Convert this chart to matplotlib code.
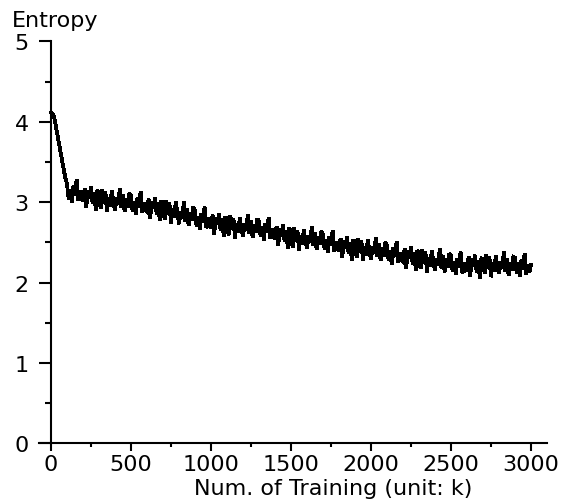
import matplotlib
matplotlib.use("Agg")
import matplotlib.pyplot as plt
import numpy as np

# Training steps (unit: k) and entropy values
steps = list(range(0, 3010, 10))
entropy = [
    4.12, 4.10, 4.06, 3.95, 3.84, 3.73, 3.62, 3.51, 3.40, 3.30,
    3.23, 3.04, 3.16, 3.00, 3.20, 3.09, 3.28, 3.02, 3.14, 3.05,
    3.01, 3.17, 2.93, 3.14, 3.05, 3.19, 2.98, 3.12, 2.90, 3.15,
    3.10, 2.92, 3.16, 2.99, 3.13, 2.88, 3.06, 2.95, 3.14, 3.00,
    2.90, 3.05, 2.97, 3.17, 2.93, 3.09, 2.88, 3.04, 2.94, 3.11,
    3.08, 2.89, 3.01, 2.85, 3.05, 2.94, 3.13, 2.87, 2.99, 2.90,
    2.88, 3.04, 2.80, 3.01, 2.92, 3.06, 2.85, 2.99, 2.77, 3.02,
    2.96, 2.78, 3.02, 2.85, 2.99, 2.74, 2.92, 2.81, 3.00, 2.86,
    2.73, 2.88, 2.80, 3.00, 2.76, 2.92, 2.71, 2.87, 2.77, 2.94,
    2.89, 2.70, 2.82, 2.66, 2.86, 2.75, 2.94, 2.68, 2.80, 2.71,
    2.68, 2.84, 2.60, 2.81, 2.72, 2.86, 2.65, 2.79, 2.57, 2.82,
    2.77, 2.59, 2.83, 2.66, 2.80, 2.55, 2.73, 2.62, 2.81, 2.67,
    2.58, 2.73, 2.65, 2.85, 2.61, 2.77, 2.56, 2.72, 2.62, 2.79,
    2.76, 2.57, 2.69, 2.53, 2.73, 2.62, 2.81, 2.55, 2.67, 2.58,
    2.54, 2.70, 2.46, 2.67, 2.58, 2.72, 2.51, 2.65, 2.43, 2.68,
    2.62, 2.44, 2.68, 2.51, 2.65, 2.40, 2.58, 2.47, 2.66, 2.52,
    2.43, 2.58, 2.50, 2.70, 2.46, 2.62, 2.41, 2.57, 2.47, 2.64,
    2.60, 2.41, 2.53, 2.37, 2.57, 2.46, 2.65, 2.39, 2.51, 2.42,
    2.39, 2.55, 2.31, 2.52, 2.43, 2.57, 2.36, 2.50, 2.28, 2.53,
    2.49, 2.31, 2.55, 2.38, 2.52, 2.27, 2.45, 2.34, 2.53, 2.39,
    2.29, 2.44, 2.36, 2.56, 2.32, 2.48, 2.27, 2.43, 2.33, 2.50,
    2.46, 2.27, 2.39, 2.23, 2.43, 2.32, 2.51, 2.25, 2.37, 2.28,
    2.26, 2.42, 2.18, 2.39, 2.30, 2.44, 2.23, 2.37, 2.15, 2.40,
    2.35, 2.17, 2.41, 2.24, 2.38, 2.13, 2.31, 2.20, 2.39, 2.25,
    2.15, 2.30, 2.22, 2.42, 2.18, 2.34, 2.13, 2.29, 2.19, 2.36,
    2.33, 2.14, 2.26, 2.10, 2.30, 2.19, 2.38, 2.12, 2.24, 2.15,
    2.16, 2.32, 2.08, 2.29, 2.20, 2.34, 2.13, 2.27, 2.05, 2.30,
    2.29, 2.11, 2.35, 2.18, 2.32, 2.07, 2.25, 2.14, 2.33, 2.19,
    2.11, 2.26, 2.18, 2.38, 2.14, 2.30, 2.09, 2.25, 2.15, 2.32,
    2.31, 2.12, 2.24, 2.08, 2.28, 2.17, 2.36, 2.10, 2.22, 2.13,
    2.22,
]

x_ticks = [0, 500, 1000, 1500, 2000, 2500, 3000]
y_ticks = [0, 1, 2, 3, 4, 5]

plt.rcParams['font.family'] = ['DejaVu Sans']
plt.rcParams['path.simplify'] = False
FS = 16

fig = plt.figure(figsize=(5.63, 5.02), dpi=100)
L, R, B, T = 39, 547, 444.3, 42.3
ax = fig.add_axes([L / 563, 1 - B / 502, (R - L) / 563, (B - T) / 502])

ax.plot(steps, entropy, color='black', lw=2.0, solid_joinstyle='miter',
        antialiased=False)

ax.set_xlim(-75, 3100)
ax.set_ylim(0, 5)
ax.spines['top'].set_visible(False)
ax.spines['right'].set_visible(False)
ax.spines['left'].set_position(('data', 0))
ax.spines['left'].set_linewidth(1.5)
ax.spines['bottom'].set_linewidth(1.5)

ax.set_xticks(x_ticks)
ax.set_xticks(np.arange(250, 3000, 500), minor=True)
ax.set_yticks(y_ticks)
ax.set_yticks(np.arange(0.5, 5, 0.5), minor=True)

ax.tick_params(axis='x', which='major', direction='out', length=5.5, width=1.5,
               labelsize=FS, pad=2)
ax.tick_params(axis='x', which='minor', direction='out', length=3, width=1.5)
ax.tick_params(axis='y', which='major', direction='out', length=9, width=1.5,
               labelsize=FS, pad=7)
ax.tick_params(axis='y', which='minor', direction='out', length=4.5, width=1.5)

fig.text(12 / 563, 1 - 21 / 502, 'Entropy', fontsize=FS, ha='left', va='center')
fig.text(333 / 563, 1 - 489 / 502, 'Num. of Training (unit: k)', fontsize=FS,
         ha='center', va='center')

fig.savefig('out.png', dpi=100)
